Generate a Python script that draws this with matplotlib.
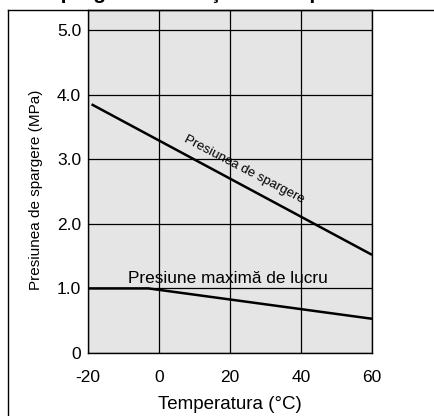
import matplotlib
matplotlib.use("Agg")
import matplotlib.pyplot as plt
from matplotlib.lines import Line2D

plt.rcParams['font.family'] = ['Liberation Sans', 'DejaVu Sans']

# data
temp_ticks = [-20, 0, 20, 40, 60]
temp_labels = ["-20", "0", "20", "40", "60"]
press_ticks = [0, 1, 2, 3, 4, 5]
press_labels = ["0", "1.0", "2.0", "3.0", "4.0", "5.0"]

burst_temp = [-19, 60]
burst_press = [3.85, 1.52]

work_temp = [-20, -3, 60]
work_press = [1.0, 1.0, 0.53]

fig = plt.figure(figsize=(4.35, 4.16), dpi=100)
ax = fig.add_axes([88 / 435, 63 / 416, 284 / 435, 343 / 416])
ax.set_facecolor('#e5e5e5')

ax.plot(burst_temp, burst_press, color='black', lw=1.8, solid_capstyle='butt')
ax.plot(work_temp, work_press, color='black', lw=1.8, solid_capstyle='butt')

ax.set_xlim(-20, 60)
ax.set_ylim(0, 5.31)
ax.set_xticks(temp_ticks)
ax.set_xticklabels(temp_labels)
ax.set_yticks(press_ticks)
ax.set_yticklabels(press_labels)
ax.tick_params(axis='both', length=0, labelsize=12.5)
ax.tick_params(axis='x', pad=12)
ax.tick_params(axis='y', pad=5)
ax.grid(True, color='black', lw=0.9)
ax.set_axisbelow(True)
for s in ax.spines.values():
    s.set_linewidth(1.0)

ax.set_xlabel("Temperatura (°C)", fontsize=13.5)
ax.xaxis.set_label_coords(0.5, -0.125)
ax.set_ylabel("Presiunea de spargere (MPa)", fontsize=11)
ax.yaxis.set_label_coords(-0.158, 0.475)

ax.text(7.0, 3.27, "Presiunea de spargere", fontsize=9.5, rotation=-27.5,
        ha='left', va='baseline', rotation_mode='anchor')
ax.text(19.4, 1.08, "Presiune maximă de lucru", fontsize=12.4,
        ha='center', va='baseline')

# cropped title at the very top
fig.text(-0.2, 1.0 + 1 / 416, "Presiunea de spargere în funcţie de temperatură",
         fontsize=15, fontweight='bold', ha='left', va='baseline')

# frame lines of the original panel
fig.add_artist(Line2D([8 / 435, 8 / 435], [0, 406 / 416], color='black', lw=1.0))
fig.add_artist(Line2D([8 / 435, 1], [406 / 416, 406 / 416], color='black', lw=1.0))

fig.savefig("out.png", dpi=100)
